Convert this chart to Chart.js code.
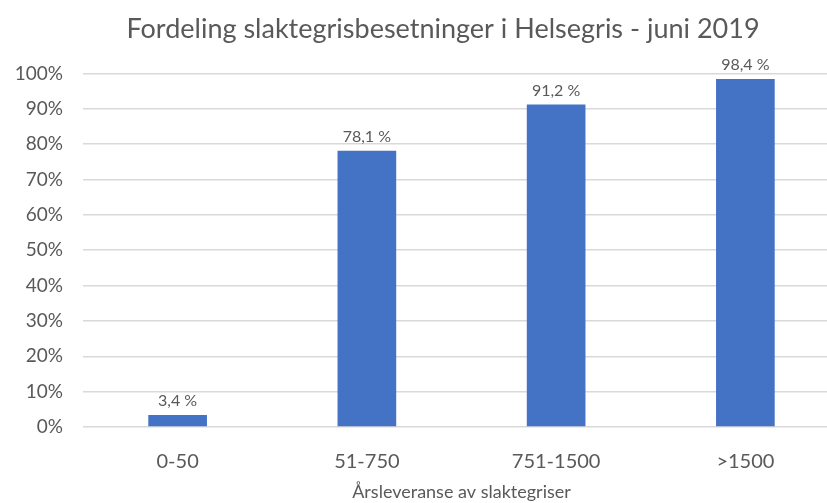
<!DOCTYPE html>
<html>
<head>
<meta charset="utf-8">
<script src="https://cdn.jsdelivr.net/npm/chart.js@4/dist/chart.umd.min.js"></script>
<style>
  html, body { margin: 0; padding: 0; background: #fff; overflow: hidden; }
  #wrap { width: 886px; height: 503px; }
</style>
</head>
<body>
<div id="wrap"><canvas id="barChart"></canvas></div>
<script>
var categories = ['0-50', '51-750', '751-1500', '>1500'];
var shares = [3.4, 78.1, 91.2, 98.4];
var yTicks = [0, 10, 20, 30, 40, 50, 60, 70, 80, 90, 100];

var fontFamily = 'Lato, "Open Sans", sans-serif';

// value labels over each bar, Norwegian decimal comma
var barLabels = {
	id: 'barLabels',
	afterDatasetsDraw: function(chart) {
		var ctx = chart.ctx;
		var meta = chart.getDatasetMeta(0);
		ctx.save();
		ctx.font = '16px ' + fontFamily;
		ctx.fillStyle = '#595959';
		ctx.textAlign = 'center';
		ctx.textBaseline = 'bottom';
		meta.data.forEach(function(bar, i) {
			var txt = shares[i].toFixed(1).replace('.', ',') + ' %';
			ctx.fillText(txt, bar.x, bar.y - 6);
		});
		ctx.restore();
	}
};

var ctx = document.getElementById('barChart').getContext('2d');
var chart = new Chart(ctx, {
	type: 'bar',
	data: {
		labels: categories,
		datasets: [{
			data: shares,
			backgroundColor: '#4472C4',
			borderWidth: 0,
			barPercentage: 0.31,
			categoryPercentage: 1
		}]
	},
	options: {
		responsive: true,
		maintainAspectRatio: false,
		animation: false,
		layout: { padding: 0 },
		plugins: {
			legend: { display: false },
			tooltip: { enabled: false },
			title: {
				display: true,
				text: 'Fordeling slaktegrisbesetninger i Helsegris - juni 2019',
				color: '#595959',
				font: { family: fontFamily, size: 27, weight: 'normal' },
				padding: { top: 13, bottom: 28 }
			}
		},
		scales: {
			x: {
				afterFit: function(scale) { scale.height = 76; },
				grid: { display: false },
				border: { display: false },
				ticks: { color: '#595959', font: { family: fontFamily, size: 20 }, padding: 15 },
				title: {
					display: true,
					text: 'Årsleveranse av slaktegriser',
					color: '#595959',
					font: { family: fontFamily, size: 18 },
					padding: { top: 0, bottom: 0 }
				}
			},
			y: {
				min: 0,
				max: 100,
				afterBuildTicks: function(scale) {
					scale.ticks = yTicks.map(function(v) { return { value: v }; });
				},
				afterFit: function(scale) { scale.width = 83; },
				grid: { color: '#d9d9d9', lineWidth: 1.5, drawTicks: false },
				border: { display: false },
				ticks: {
					color: '#595959',
					font: { family: fontFamily, size: 19 },
					padding: 20,
					callback: function(v) { return v + '%'; }
				}
			},
			// empty right-hand margin
			yRight: {
				position: 'right',
				min: 0,
				max: 100,
				afterFit: function(scale) { scale.width = 46; },
				grid: { display: false },
				border: { display: false },
				ticks: { display: false }
			}
		}
	},
	plugins: [barLabels]
});
</script>
</body>
</html>
